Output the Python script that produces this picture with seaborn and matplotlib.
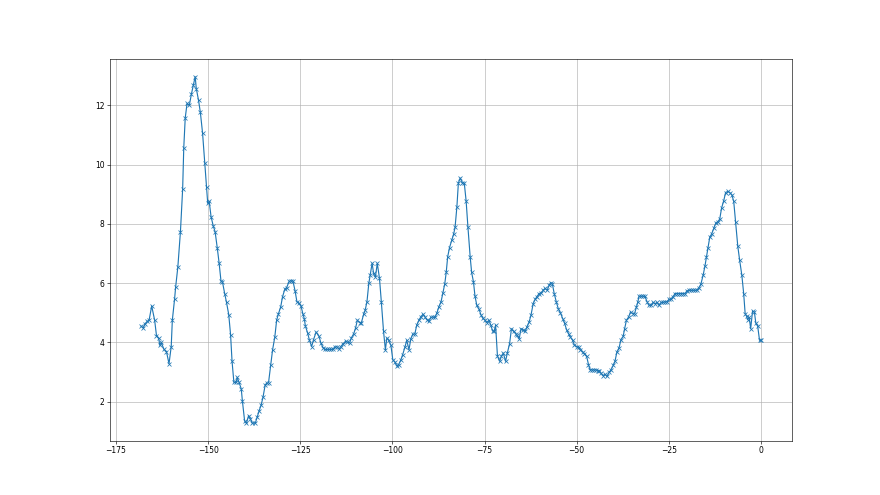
import matplotlib
matplotlib.use("Agg")
import matplotlib.pyplot as plt
import seaborn as sns
import pandas as pd

# sample positions
x_vals = [
    -168.2, -167.6, -167.1, -166.5, -166.0, -165.3, -164.5, -164.0, -163.4, -163.1,
    -162.7, -162.0, -161.3, -160.6, -160.0, -159.7, -159.1, -158.8, -158.2, -157.5,
    -156.9, -156.6, -156.2, -155.7, -155.1, -154.5, -154.0, -153.5, -153.2, -152.6,
    -152.1, -151.5, -150.9, -150.4, -150.1, -149.7, -149.2, -148.6, -148.1, -147.5,
    -147.0, -146.5, -146.1, -145.5, -145.0, -144.4, -143.9, -143.5, -143.0, -142.4,
    -142.1, -141.6, -141.0, -140.7, -140.1, -139.6, -139.0, -138.5, -138.0, -137.2,
    -136.7, -136.2, -135.6, -135.1, -134.5, -134.1, -133.6, -133.0, -132.5, -131.9,
    -131.4, -130.9, -130.3, -129.8, -129.2, -128.7, -128.0, -127.5, -127.0, -126.4,
    -125.9, -125.4, -124.8, -124.3, -123.9, -123.6, -123.0, -122.5, -121.9, -121.4,
    -120.7, -119.9, -119.4, -118.8, -118.3, -117.7, -117.2, -116.7, -116.1, -115.6,
    -115.1, -114.5, -114.0, -113.4, -112.7, -112.2, -111.6, -111.1, -110.5, -110.0,
    -109.5, -108.9, -108.4, -107.8, -107.4, -106.9, -106.4, -106.0, -105.5, -105.1,
    -104.6, -104.1, -103.5, -103.0, -102.4, -101.9, -101.5, -101.0, -100.4, -99.9,
    -99.3, -98.8, -98.3, -97.7, -97.2, -96.6, -96.1, -95.5, -95.0, -94.5,
    -93.9, -93.4, -92.8, -92.3, -91.7, -91.2, -90.6, -90.1, -89.6, -89.0,
    -88.5, -87.9, -87.4, -86.8, -86.3, -85.8, -85.4, -85.0, -84.5, -83.9,
    -83.4, -83.0, -82.5, -82.1, -81.6, -81.0, -80.5, -80.0, -79.5, -78.9,
    -78.5, -78.0, -77.6, -77.1, -76.5, -76.0, -75.5, -74.9, -74.4, -73.8,
    -73.3, -72.8, -72.4, -72.0, -71.5, -70.9, -70.4, -69.9, -69.3, -68.8,
    -68.2, -67.7, -67.1, -66.6, -66.2, -65.6, -65.1, -64.6, -64.0, -63.5,
    -62.9, -62.4, -61.8, -61.3, -60.8, -60.2, -59.7, -59.1, -58.6, -58.0,
    -57.5, -57.0, -56.6, -56.1, -55.5, -55.0, -54.4, -53.8, -53.3, -52.7,
    -52.2, -51.7, -51.1, -50.6, -50.0, -49.5, -49.0, -48.4, -47.9, -47.3,
    -46.8, -46.4, -45.9, -45.3, -44.8, -44.3, -43.9, -43.4, -42.9, -42.3,
    -41.8, -41.2, -40.7, -40.1, -39.6, -39.1, -38.5, -38.0, -37.4, -37.0,
    -36.5, -35.9, -35.4, -34.8, -34.3, -33.8, -33.4, -33.1, -32.5, -32.0,
    -31.5, -30.9, -30.4, -29.8, -29.3, -28.7, -28.2, -27.7, -27.1, -26.6,
    -26.0, -25.5, -25.0, -24.4, -23.9, -23.3, -22.8, -22.2, -21.7, -21.2,
    -20.6, -20.1, -19.5, -19.0, -18.4, -17.9, -17.4, -16.8, -16.3, -15.7,
    -15.2, -14.8, -14.4, -13.9, -13.4, -12.8, -12.3, -11.7, -11.2, -10.7,
    -10.1, -9.6, -9.0, -8.5, -7.9, -7.4, -6.9, -6.3, -5.8, -5.2,
    -4.7, -4.3, -3.9, -3.6, -3.2, -2.8, -2.3, -1.8, -1.4, -0.9,
    -0.4, 0.0,
]

y_vals = [
    4.55, 4.49, 4.63, 4.71, 4.75, 5.23, 4.75, 4.23, 4.14, 3.90,
    4.00, 3.77, 3.69, 3.28, 3.86, 4.75, 5.45, 5.87, 6.55, 7.74,
    9.18, 10.57, 11.58, 12.07, 12.00, 12.40, 12.69, 12.97, 12.57, 12.18,
    11.77, 11.07, 10.06, 9.26, 8.70, 8.76, 8.25, 7.93, 7.74, 7.18,
    6.67, 6.07, 6.04, 5.65, 5.35, 4.94, 4.26, 3.36, 2.65, 2.65,
    2.82, 2.65, 2.43, 2.03, 1.36, 1.27, 1.53, 1.41, 1.27, 1.27,
    1.47, 1.67, 1.89, 2.15, 2.57, 2.62, 2.64, 3.24, 3.75, 4.18,
    4.75, 4.97, 5.20, 5.54, 5.79, 5.85, 6.06, 6.08, 6.08, 5.74,
    5.37, 5.33, 5.23, 4.97, 4.80, 4.55, 4.32, 4.07, 3.86, 4.09,
    4.35, 4.20, 3.98, 3.82, 3.76, 3.76, 3.76, 3.76, 3.76, 3.84,
    3.86, 3.78, 3.86, 3.95, 4.04, 4.01, 3.98, 4.16, 4.29, 4.48,
    4.75, 4.67, 4.67, 4.95, 5.08, 5.37, 5.99, 6.29, 6.67, 6.33,
    6.21, 6.67, 6.16, 5.37, 4.37, 3.75, 4.15, 4.07, 3.90, 3.42,
    3.33, 3.20, 3.25, 3.41, 3.59, 3.84, 4.07, 3.75, 4.12, 4.27,
    4.29, 4.58, 4.75, 4.86, 4.95, 4.86, 4.77, 4.71, 4.84, 4.86,
    4.84, 5.00, 5.20, 5.37, 5.67, 5.97, 6.36, 6.89, 7.20, 7.45,
    7.65, 7.88, 8.58, 9.38, 9.55, 9.38, 9.38, 8.78, 7.88, 6.89,
    6.36, 6.04, 5.57, 5.25, 5.12, 4.94, 4.82, 4.75, 4.67, 4.75,
    4.58, 4.38, 4.38, 4.58, 3.54, 3.36, 3.54, 3.64, 3.36, 3.65,
    3.96, 4.46, 4.37, 4.29, 4.24, 4.12, 4.46, 4.43, 4.37, 4.52,
    4.69, 4.92, 5.31, 5.45, 5.54, 5.65, 5.67, 5.76, 5.82, 5.76,
    5.93, 6.02, 5.97, 5.65, 5.35, 5.14, 4.99, 4.80, 4.65, 4.41,
    4.29, 4.18, 4.07, 3.90, 3.86, 3.84, 3.75, 3.69, 3.62, 3.53,
    3.25, 3.08, 3.07, 3.07, 3.07, 3.05, 3.05, 2.96, 2.88, 2.92,
    2.85, 2.99, 3.07, 3.22, 3.37, 3.67, 3.82, 4.09, 4.20, 4.46,
    4.75, 4.86, 5.03, 4.97, 4.97, 5.20, 5.37, 5.56, 5.56, 5.56,
    5.56, 5.37, 5.25, 5.25, 5.35, 5.31, 5.35, 5.25, 5.35, 5.35,
    5.37, 5.37, 5.45, 5.45, 5.54, 5.65, 5.65, 5.65, 5.65, 5.65,
    5.65, 5.74, 5.76, 5.76, 5.76, 5.76, 5.76, 5.85, 5.97, 6.27,
    6.58, 6.87, 7.18, 7.55, 7.66, 7.85, 8.02, 8.08, 8.16, 8.53,
    8.79, 9.06, 9.10, 9.06, 8.98, 8.76, 8.08, 7.25, 6.78, 6.27,
    5.65, 4.97, 4.88, 4.77, 4.84, 4.46, 5.05, 5.03, 4.65, 4.55,
    4.07, 4.07,
]

df = pd.DataFrame({"x": x_vals, "y": y_vals})

fig, ax = plt.subplots(figsize=(16, 9), dpi=55)
sns.lineplot(data=df, x="x", y="y", marker="x", color="C0",
             markeredgecolor="C0", markeredgewidth=1.0, markersize=6,
             linewidth=1.5, sort=False, ax=ax)
ax.grid(True)
ax.set_xlabel("")
ax.set_ylabel("")

plt.savefig("out.png", dpi=55)
plt.close()
